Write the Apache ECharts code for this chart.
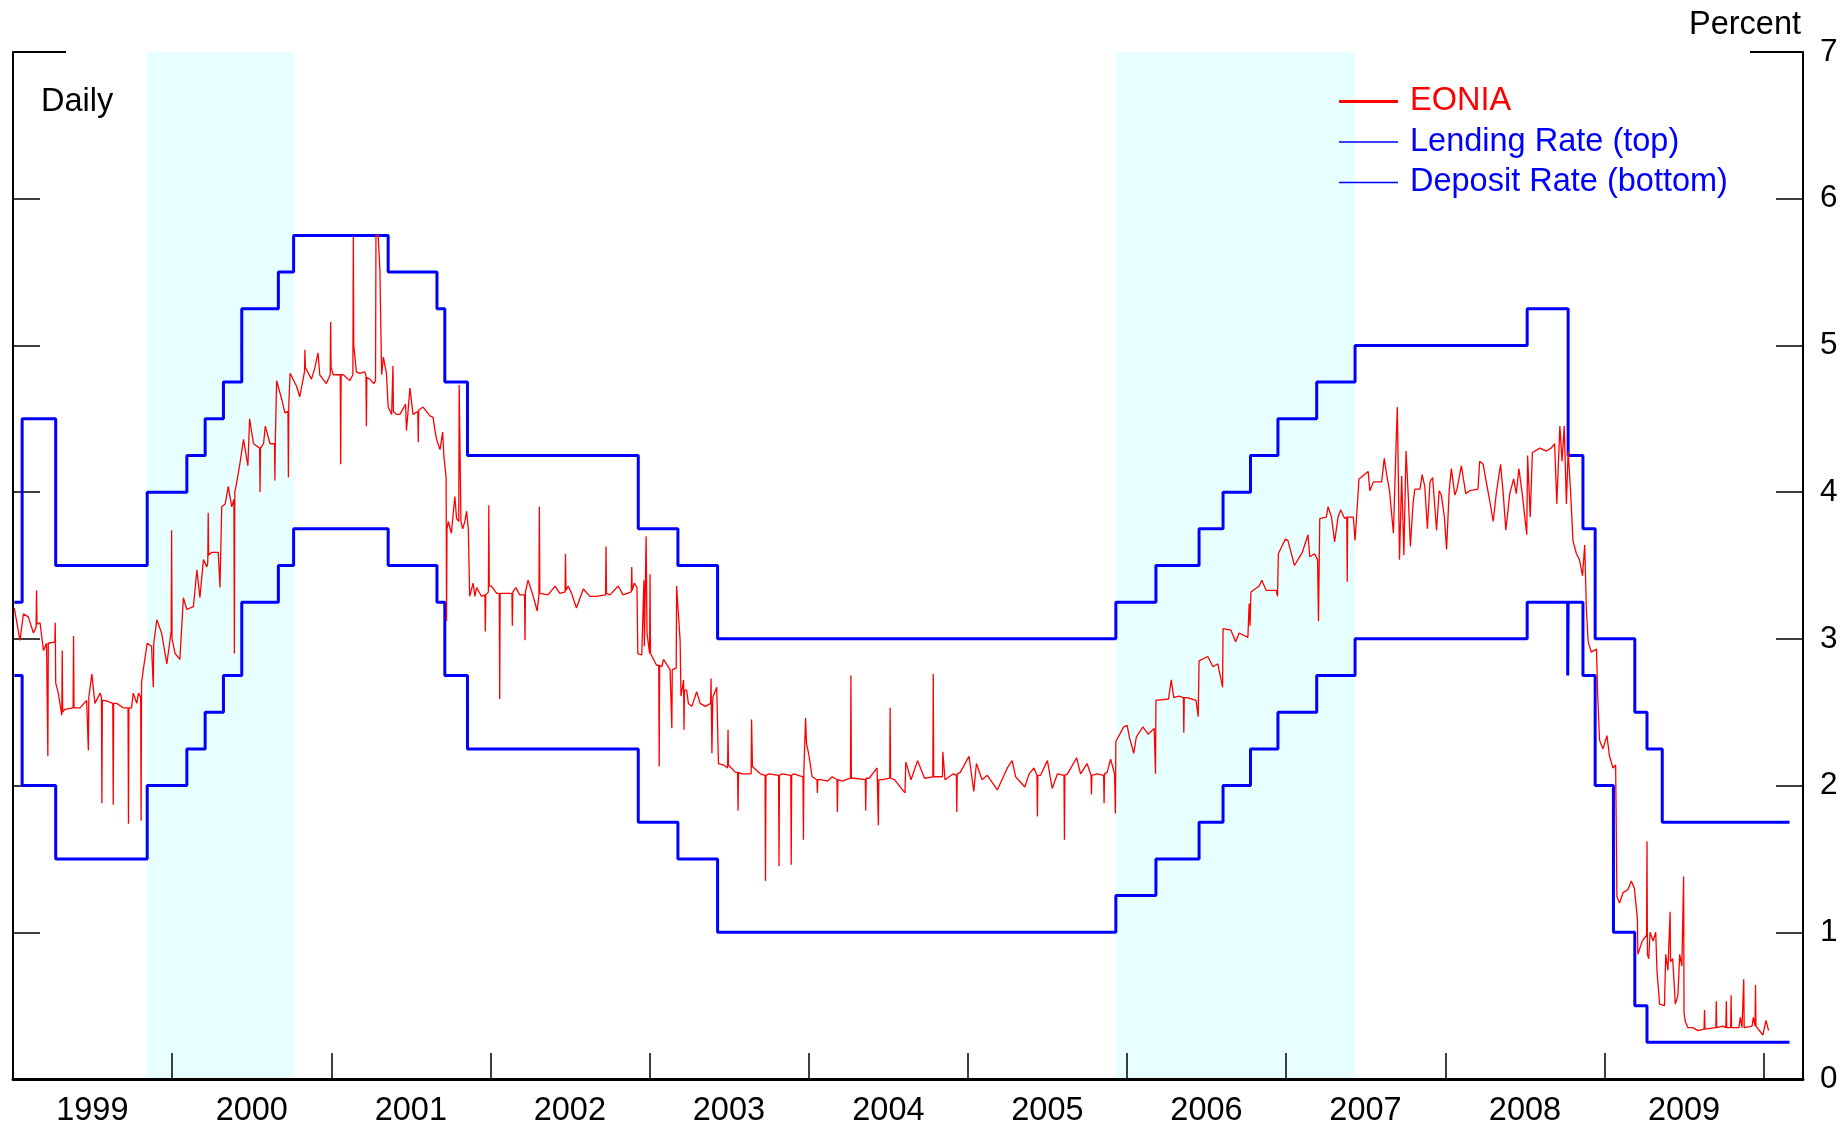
<!DOCTYPE html>
<html><head><meta charset="utf-8">
<script src="https://cdn.jsdelivr.net/npm/echarts@6/dist/echarts.min.js"></script>
<style>html,body{margin:0;padding:0;background:#fff}#c{width:1845px;height:1127px}</style>
</head><body><div id="c"></div>
<script>
const FONT = "'Liberation Sans', Arial, Helvetica, sans-serif";

// x-axis: year tick positions (Jan 1) and year labels (centred mid-year)
const yearTicks = ['2000-01-01','2001-01-01','2002-01-01','2003-01-01','2004-01-01','2005-01-01','2006-01-01','2007-01-01','2008-01-01','2009-01-01','2010-01-01'];
const yearLabels = ['1999','2000','2001','2002','2003','2004','2005','2006','2007','2008','2009'];
const yTickValues = [0,1,2,3,4,5,6,7];

// shaded tightening periods
const tighteningPeriods = [['1999-11-05','2000-10-06'],['2005-12-06','2007-06-08']];

// ECB marginal lending rate (value in force from date)
const lendingRate = [
 ['1999-01-04',3.25],['1999-01-22',4.50],['1999-04-09',3.50],['1999-11-05',4.00],['2000-02-04',4.25],
 ['2000-03-17',4.50],['2000-04-28',4.75],['2000-06-09',5.25],['2000-09-01',5.50],['2000-10-06',5.75],
 ['2001-05-11',5.50],['2001-08-31',5.25],['2001-09-18',4.75],['2001-11-09',4.25],['2002-12-06',3.75],
 ['2003-03-07',3.50],['2003-06-06',3.00],['2005-12-06',3.25],['2006-03-08',3.50],['2006-06-15',3.75],
 ['2006-08-09',4.00],['2006-10-11',4.25],['2006-12-13',4.50],['2007-03-12',4.75],['2007-06-08',5.00],
 ['2008-07-07',5.25],['2008-10-09',4.25],['2008-11-12',3.75],['2008-12-10',3.00],['2009-03-11',2.50],
 ['2009-04-08',2.25],['2009-05-13',1.75],['2010-03-01',1.75]
];
// ECB deposit facility rate
const depositRate = [
 ['1999-01-04',2.75],['1999-01-22',2.00],['1999-04-09',1.50],['1999-11-05',2.00],['2000-02-04',2.25],
 ['2000-03-17',2.50],['2000-04-28',2.75],['2000-06-09',3.25],['2000-09-01',3.50],['2000-10-06',3.75],
 ['2001-05-11',3.50],['2001-08-31',3.25],['2001-09-18',2.75],['2001-11-09',2.25],['2002-12-06',1.75],
 ['2003-03-07',1.50],['2003-06-06',1.00],['2005-12-06',1.25],['2006-03-08',1.50],['2006-06-15',1.75],
 ['2006-08-09',2.00],['2006-10-11',2.25],['2006-12-13',2.50],['2007-03-12',2.75],['2007-06-08',3.00],
 ['2008-07-07',3.25],['2008-10-08',2.75],['2008-10-09',3.25],['2008-11-12',2.75],['2008-12-10',2.00],
 ['2009-01-21',1.00],['2009-03-11',0.50],['2009-04-08',0.25],['2010-03-01',0.25]
];

// EONIA
const eonia1999_2000 = [
 ['1999-01-04',3.21],['1999-01-17',2.99],['1999-01-25',3.17],['1999-02-05',3.15],['1999-02-17',3.04],['1999-02-23',3.08],
 ['1999-02-24',3.33],['1999-02-25',3.10],['1999-03-04',3.11],['1999-03-12',2.92],['1999-03-19',2.97],['1999-03-21',2.97],
 ['1999-03-22',2.20],['1999-03-23',2.97],['1999-03-27',2.98],['1999-04-07',2.98],['1999-04-08',3.11],['1999-04-09',2.70],
 ['1999-04-15',2.63],['1999-04-23',2.48],['1999-04-24',2.92],['1999-04-25',2.50],['1999-04-30',2.52],['1999-05-19',2.53],
 ['1999-05-20',3.02],['1999-05-21',2.53],['1999-06-04',2.53],['1999-06-19',2.58],['1999-06-22',2.58],['1999-06-23',2.24],
 ['1999-06-24',2.60],['1999-06-27',2.67],['1999-07-01',2.76],['1999-07-08',2.56],['1999-07-20',2.63],['1999-07-23',2.60],
 ['1999-07-24',1.88],['1999-07-25',2.58],['1999-07-31',2.58],['1999-08-18',2.56],['1999-08-19',1.87],['1999-08-20',2.56],
 ['1999-08-27',2.56],['1999-09-11',2.53],['1999-09-22',2.53],['1999-09-23',1.74],['1999-09-24',2.53],['1999-09-30',2.53],
 ['1999-10-04',2.63],['1999-10-12',2.56],['1999-10-16',2.63],['1999-10-21',2.60],['1999-10-22',1.76],['1999-10-23',2.70],
 ['1999-10-27',2.79],['1999-10-31',2.79],['1999-11-05',2.97],['1999-11-15',2.95],['1999-11-18',2.95],['1999-11-19',2.67],
 ['1999-11-20',2.97],['1999-11-27',3.13],['1999-12-08',3.04],['1999-12-20',2.83],['1999-12-30',3.05],['1999-12-31',3.74],
 ['2000-01-01',3.00],['2000-01-08',2.90],['2000-01-19',2.86],['2000-01-27',3.28],['2000-02-04',3.20],['2000-02-19',3.22],
 ['2000-02-27',3.47],['2000-03-05',3.28],['2000-03-13',3.54],['2000-03-21',3.49],['2000-03-23',3.52],['2000-03-24',3.86],
 ['2000-03-25',3.57],['2000-04-01',3.59],['2000-04-16',3.59],['2000-04-20',3.35],['2000-04-24',3.90],['2000-05-02',3.92],
 ['2000-05-09',4.04],['2000-05-17',3.90],['2000-05-22',3.95],['2000-05-23',2.90],['2000-05-24',4.00],['2000-05-28',4.06],
 ['2000-06-05',4.20],['2000-06-13',4.36],['2000-06-23',4.18],['2000-06-27',4.50],['2000-07-06',4.33],['2000-07-20',4.30],
 ['2000-07-21',4.00],['2000-07-22',4.30],['2000-07-29',4.33],['2000-08-02',4.45],['2000-08-13',4.33],['2000-08-23',4.33],
 ['2000-08-24',4.08],['2000-08-25',4.35],['2000-08-28',4.76],['2000-09-09',4.63],['2000-09-16',4.54],['2000-09-23',4.55],
 ['2000-09-24',4.10],['2000-09-25',4.60],['2000-09-28',4.81],['2000-10-13',4.72]
];
const eonia2000_2002 = [
 ['2000-10-20',4.65],['2000-10-31',4.82],['2000-11-01',4.97],['2000-11-02',4.85],['2000-11-16',4.77],['2000-11-24',4.85],
 ['2000-12-01',4.95],['2000-12-05',4.80],['2000-12-20',4.74],['2000-12-29',4.80],['2000-12-30',5.16],['2000-12-31',4.85],
 ['2001-01-05',4.80],['2001-01-16',4.80],['2001-01-21',4.80],['2001-01-22',4.19],['2001-01-23',4.80],['2001-01-28',4.80],
 ['2001-02-12',4.76],['2001-02-19',4.80],['2001-02-20',5.74],['2001-02-21',5.00],['2001-02-23',4.99],['2001-02-27',4.82],
 ['2001-03-07',4.81],['2001-03-18',4.82],['2001-03-21',4.80],['2001-03-22',4.45],['2001-03-23',4.78],['2001-03-30',4.77],
 ['2001-04-08',4.74],['2001-04-12',4.76],['2001-04-13',5.75],['2001-04-18',5.75],['2001-04-22',5.51],['2001-04-26',4.80],
 ['2001-04-30',4.92],['2001-05-07',4.81],['2001-05-11',4.58],['2001-05-19',4.53],['2001-05-21',4.53],['2001-05-22',4.86],
 ['2001-05-23',4.55],['2001-05-30',4.53],['2001-06-07',4.53],['2001-06-20',4.60],['2001-06-22',4.42],['2001-06-30',4.71],
 ['2001-07-07',4.53],['2001-07-18',4.55],['2001-07-19',4.34],['2001-07-20',4.56],['2001-07-30',4.58],['2001-08-15',4.52],
 ['2001-08-22',4.51],['2001-08-26',4.43],['2001-08-30',4.36],['2001-09-07',4.29],['2001-09-13',4.41],['2001-09-16',4.24],
 ['2001-09-21',4.10],['2001-09-22',3.12],['2001-09-23',3.75],['2001-09-26',3.80],['2001-10-03',3.72],['2001-10-11',3.97],
 ['2001-10-15',3.82],['2001-10-20',3.80],['2001-10-21',4.73],['2001-10-24',4.73],['2001-10-25',3.80],['2001-10-29',3.75],
 ['2001-11-03',3.80],['2001-11-07',3.87],['2001-11-11',3.75],['2001-11-14',3.29],['2001-11-22',3.38],['2001-11-26',3.29],
 ['2001-11-30',3.35],['2001-12-11',3.29],['2001-12-19',3.30],['2001-12-20',3.05],['2001-12-21',3.30],['2001-12-27',3.32],
 ['2001-12-28',3.91],['2001-12-29',3.36],['2002-01-03',3.36],['2002-01-15',3.31],['2002-01-21',3.31],['2002-01-22',2.59],
 ['2002-01-23',3.31],['2002-01-30',3.31],['2002-02-11',3.31],['2002-02-19',3.31],['2002-02-20',3.09],['2002-02-21',3.32],
 ['2002-02-28',3.35],['2002-03-09',3.30],['2002-03-20',3.30],['2002-03-21',2.99],['2002-03-22',3.32],['2002-03-28',3.40],
 ['2002-04-09',3.29],['2002-04-18',3.19],['2002-04-22',3.30],['2002-04-23',3.90],['2002-04-24',3.31],['2002-04-28',3.31],
 ['2002-05-13',3.30],['2002-05-29',3.36],['2002-06-09',3.31],['2002-06-21',3.32],['2002-06-22',3.58],['2002-06-23',3.33],
 ['2002-06-28',3.36],['2002-07-06',3.31],['2002-07-17',3.21],['2002-08-02',3.34],['2002-08-17',3.29],['2002-09-01',3.29],
 ['2002-09-22',3.30],['2002-09-23',3.63],['2002-09-24',3.31],['2002-10-02',3.30],['2002-10-21',3.36],['2002-11-01',3.30],
 ['2002-11-20',3.32],['2002-11-21',3.49],['2002-11-22',3.33],['2002-11-27',3.38],['2002-12-03',3.35],['2002-12-05',2.90]
];
const eonia2003_2004 = [
 ['2002-12-14',2.89],['2002-12-18',2.90],['2002-12-19',3.40],['2002-12-20',2.95],['2002-12-23',2.95],['2002-12-24',3.70],
 ['2002-12-26',3.04],['2002-12-29',3.04],['2003-01-01',2.90],['2003-01-02',3.44],['2003-01-03',2.90],['2003-01-06',2.89],
 ['2003-01-17',2.82],['2003-01-22',2.82],['2003-01-23',2.13],['2003-01-24',2.82],['2003-01-29',2.81],['2003-02-02',2.86],
 ['2003-02-17',2.79],['2003-02-20',2.79],['2003-02-21',2.39],['2003-02-22',2.79],['2003-02-25',2.79],['2003-03-03',2.80],
 ['2003-03-04',3.36],['2003-03-08',3.17],['2003-03-12',2.99],['2003-03-14',2.61],['2003-03-20',2.72],['2003-03-21',2.38],
 ['2003-03-22',2.65],['2003-03-27',2.65],['2003-03-31',2.56],['2003-04-08',2.54],['2003-04-19',2.64],['2003-04-27',2.56],
 ['2003-05-09',2.54],['2003-05-21',2.56],['2003-05-22',2.73],['2003-05-24',2.22],['2003-05-26',2.60],['2003-06-04',2.67],
 ['2003-06-08',2.15],['2003-06-20',2.14],['2003-06-29',2.12],['2003-06-30',2.38],['2003-07-01',2.14],['2003-07-05',2.13],
 ['2003-07-17',2.09],['2003-07-22',2.09],['2003-07-23',1.83],['2003-07-24',2.09],['2003-08-01',2.08],['2003-08-22',2.08],
 ['2003-08-23',2.45],['2003-08-25',2.13],['2003-08-28',2.13],['2003-09-12',2.08],['2003-09-23',2.07],['2003-09-24',1.35],
 ['2003-09-25',2.07],['2003-10-02',2.08],['2003-10-24',2.07],['2003-10-25',1.45],['2003-10-26',2.07],['2003-11-01',2.08],
 ['2003-11-21',2.07],['2003-11-22',1.46],['2003-11-23',2.07],['2003-11-28',2.08],['2003-12-19',2.06],['2003-12-20',1.63],
 ['2003-12-21',2.10],['2003-12-24',2.10],['2003-12-25',2.46],['2003-12-27',2.29],['2004-01-02',2.20],['2004-01-09',2.06],
 ['2004-01-20',2.04],['2004-01-21',1.95],['2004-01-22',2.04],['2004-01-29',2.04],['2004-02-13',2.03],['2004-02-24',2.06],
 ['2004-03-06',2.04],['2004-03-07',1.82],['2004-03-08',2.04],['2004-03-18',2.03],['2004-04-06',2.05],['2004-04-07',2.75],
 ['2004-04-08',2.05],['2004-04-14',2.05],['2004-05-10',2.04],['2004-05-11',1.83],['2004-05-12',2.05],['2004-05-19',2.05],
 ['2004-06-06',2.12],['2004-06-09',1.73],['2004-06-10',2.04],['2004-06-19',2.04],['2004-07-05',2.05],['2004-07-06',2.53],
 ['2004-07-07',2.05],['2004-07-16',2.04],['2004-08-09',1.95],['2004-08-11',2.16],['2004-08-23',2.04],['2004-09-07',2.17],
 ['2004-09-23',2.05],['2004-10-12',2.06],['2004-10-13',2.76],['2004-10-14',2.06],['2004-10-23',2.06]
];
const eonia2005_2006 = [
 ['2004-11-03',2.06],['2004-11-04',2.23],['2004-11-09',2.04],['2004-11-28',2.08],['2004-12-05',2.07],['2004-12-06',1.82],
 ['2004-12-07',2.08],['2004-12-14',2.09],['2005-01-03',2.20],['2005-01-14',1.96],['2005-01-20',2.15],['2005-02-02',2.04],
 ['2005-02-14',2.07],['2005-03-09',1.97],['2005-04-01',2.12],['2005-04-12',2.17],['2005-04-20',2.06],['2005-05-11',1.99],
 ['2005-05-21',2.08],['2005-06-01',2.12],['2005-06-08',2.07],['2005-06-09',1.79],['2005-06-10',2.07],['2005-06-16',2.07],
 ['2005-07-02',2.17],['2005-07-13',1.98],['2005-07-25',2.08],['2005-08-09',2.07],['2005-08-10',1.63],['2005-08-11',2.07],
 ['2005-08-17',2.08],['2005-09-07',2.19],['2005-09-16',2.08],['2005-10-01',2.15],['2005-10-10',2.07],['2005-10-11',1.94],
 ['2005-10-12',2.07],['2005-10-24',2.08],['2005-11-08',2.07],['2005-11-09',1.88],['2005-11-10',2.08],['2005-11-16',2.09],
 ['2005-11-24',2.18],['2005-12-03',2.08],['2005-12-05',1.81],['2005-12-06',2.30],['2005-12-24',2.40],['2006-01-01',2.41],
 ['2006-01-06',2.33],['2006-01-16',2.22],['2006-01-22',2.33],['2006-02-06',2.40],['2006-02-18',2.35],['2006-03-04',2.39],
 ['2006-03-07',2.08],['2006-03-08',2.58],['2006-04-06',2.59],['2006-04-12',2.72],['2006-04-18',2.60],['2006-04-29',2.61],
 ['2006-05-10',2.60],['2006-05-11',2.36],['2006-05-12',2.60],['2006-05-19',2.60],['2006-06-08',2.58],['2006-06-13',2.47],
 ['2006-06-15',2.85],['2006-07-05',2.88],['2006-07-17',2.81],['2006-07-28',2.83],['2006-08-08',2.67],['2006-08-09',3.07]
];
const eonia2007_2009 = [
 ['2006-08-27',3.06],['2006-09-07',2.98],['2006-09-15',3.04],['2006-10-05',3.01],['2006-10-08',3.24],['2006-10-10',3.09],
 ['2006-10-12',3.32],['2006-10-31',3.36],['2006-11-06',3.40],['2006-11-16',3.33],['2006-12-09',3.33],['2006-12-12',3.29],
 ['2006-12-14',3.58],['2006-12-30',3.68],['2007-01-05',3.67],['2007-01-12',3.59],['2007-01-20',3.50],['2007-02-01',3.56],
 ['2007-02-07',3.59],['2007-02-20',3.71],['2007-02-24',3.56],['2007-03-07',3.58],['2007-03-14',3.54],['2007-03-16',3.12],
 ['2007-03-19',3.82],['2007-04-03',3.83],['2007-04-07',3.90],['2007-04-15',3.83],['2007-04-22',3.66],['2007-04-30',3.83],
 ['2007-05-06',3.88],['2007-05-15',3.82],['2007-05-20',3.83],['2007-05-21',3.39],['2007-05-22',3.83],['2007-05-27',3.83],
 ['2007-06-04',3.83],['2007-06-08',3.67],['2007-06-17',4.09],['2007-07-08',4.14],['2007-07-12',4.01],['2007-07-20',4.07],
 ['2007-08-08',4.07],['2007-08-14',4.23],['2007-08-20',4.11],['2007-08-26',4.01],['2007-09-04',3.72],['2007-09-10',4.31],
 ['2007-09-13',4.58],['2007-09-18',3.54],['2007-09-23',4.11],['2007-09-28',3.57],['2007-10-03',4.28],['2007-10-08',3.98],
 ['2007-10-13',3.63],['2007-10-19',3.92],['2007-10-23',4.02],['2007-11-04',4.02],['2007-11-09',4.12],['2007-11-15',4.04],
 ['2007-11-21',3.75],['2007-11-27',4.07],['2007-12-03',4.10],['2007-12-12',3.74],['2007-12-18',4.01],['2007-12-23',3.98],
 ['2007-12-30',3.83],['2008-01-04',3.61],['2008-01-10',4.01],['2008-01-15',4.16],['2008-01-23',3.98],['2008-01-28',4.02],
 ['2008-02-07',4.18],['2008-02-17',3.99],['2008-02-26',4.01],['2008-03-16',4.02],['2008-03-20',4.21],['2008-03-28',4.19],
 ['2008-04-04',4.07],['2008-04-11',3.96],['2008-04-20',3.80],['2008-04-27',3.99],['2008-05-07',4.19],['2008-05-13',3.99],
 ['2008-05-19',3.74],['2008-05-28',3.99],['2008-06-06',4.09],['2008-06-12',3.99],['2008-06-18',4.16],['2008-06-26',3.98],
 ['2008-07-06',3.71],['2008-07-08',4.25],['2008-07-14',3.83],['2008-07-19',4.27],['2008-08-05',4.30],['2008-08-20',4.28],
 ['2008-08-31',4.30],['2008-09-08',4.33],['2008-09-13',3.92],['2008-09-20',4.45],['2008-09-25',4.21],['2008-09-30',4.45],
 ['2008-10-05',3.92],['2008-10-09',4.28],['2008-10-15',3.98],['2008-10-20',3.67],['2008-10-28',3.58],['2008-11-04',3.54],
 ['2008-11-11',3.43],['2008-11-16',3.64],['2008-11-20',3.19],['2008-11-24',2.98],['2008-12-01',2.91],['2008-12-13',2.93],
 ['2008-12-16',2.61],['2008-12-20',2.31],['2008-12-28',2.25],['2009-01-06',2.34],['2009-01-12',2.20],['2009-01-20',2.12],
 ['2009-01-26',2.14],['2009-01-29',1.24],['2009-02-04',1.20],['2009-02-12',1.27],['2009-02-23',1.29],['2009-03-03',1.35],
 ['2009-03-10',1.30],['2009-03-17',1.09],['2009-03-18',0.85],['2009-03-28',0.94],['2009-04-07',0.98],['2009-04-08',1.62],
 ['2009-04-09',0.85],['2009-04-12',0.82],['2009-04-15',1.00],['2009-04-22',0.94],['2009-04-28',1.00],['2009-05-01',0.73],
 ['2009-05-07',0.51],['2009-05-18',0.50],['2009-05-21',0.85],['2009-05-26',0.74],['2009-05-30',0.75],['2009-05-31',1.14],
 ['2009-06-01',0.80],['2009-06-06',0.82],['2009-06-12',0.51],['2009-06-18',0.57],['2009-06-22',0.85],['2009-06-27',0.77],
 ['2009-06-30',0.77],['2009-07-01',1.38],['2009-07-02',0.45],['2009-07-05',0.39],['2009-07-11',0.35],['2009-07-22',0.35],
 ['2009-08-03',0.33],['2009-08-17',0.34],['2009-08-18',0.47],['2009-08-19',0.34],['2009-09-13',0.35],['2009-09-14',0.53],
 ['2009-09-15',0.35],['2009-09-29',0.36],['2009-10-06',0.35],['2009-10-07',0.53],['2009-10-08',0.35],['2009-10-17',0.35],
 ['2009-10-18',0.57],['2009-10-19',0.35],['2009-11-05',0.35],['2009-11-08',0.42],['2009-11-12',0.35],['2009-11-15',0.35],
 ['2009-11-16',0.68],['2009-11-17',0.35],['2009-12-05',0.36],['2009-12-08',0.42],['2009-12-12',0.36],['2009-12-13',0.64],
 ['2009-12-14',0.36],['2009-12-30',0.30],['2010-01-06',0.40],['2010-01-12',0.33]
];
const eonia = [].concat(eonia1999_2000, eonia2000_2002, eonia2003_2004, eonia2005_2006, eonia2007_2009);

// date string -> timestamp (UTC days)
const ts = s => { const p = s.split('-').map(Number); return Date.UTC(p[0], p[1]-1, p[2]); };
const toXY = arr => arr.map(d => [ts(d[0]), d[1]]);

const chart = echarts.init(document.getElementById('c'), null, {renderer:'canvas'});

const yBase = {type:'value', min:0, max:7, interval:1, splitLine:{show:false}, z:5};
chart.setOption({
  animation:false,
  backgroundColor:'#fff',
  textStyle:{fontFamily:FONT},
  title:{text:'Daily', left:41, top:86, padding:0,
    textStyle:{fontSize:32.5, fontWeight:'normal', color:'#000', fontFamily:FONT}},
  legend:{orient:'vertical', left:1339, top:85, padding:0, itemWidth:59, itemHeight:14, itemGap:7.5,
    selectedMode:false, symbolKeepAspect:true,
    textStyle:{fontSize:32.5, fontFamily:FONT, padding:[0,0,0,7]},
    data:[
      {name:'EONIA', icon:'path://M0,0L59,0L59,3L0,3Z', textStyle:{color:'#ff0000'}},
      {name:'Lending Rate (top)', icon:'path://M0,0L59,0L59,1.6L0,1.6Z', textStyle:{color:'#0000ff'}},
      {name:'Deposit Rate (bottom)', icon:'path://M0,0L59,0L59,1.6L0,1.6Z', textStyle:{color:'#0000ff'}}
    ]},
  grid:{left:13, right:42, top:52, bottom:48, containLabel:false, outerBoundsMode:'none'},
  xAxis:{type:'value', min:ts('1999-01-01'), max:ts('2010-04-01'), scale:true, z:5,
    axisLine:{show:true, lineStyle:{color:'#000', width:3}},
    axisTick:{show:true, inside:true, length:26, customValues:yearTicks.map(ts), lineStyle:{color:'#000', width:1.5}},
    axisLabel:{show:true, customValues:yearLabels.map(y=>ts(y+'-07-02')), fontSize:32.5, color:'#000', fontFamily:FONT, margin:16,
      formatter:v=>String(new Date(v).getUTCFullYear())},
    splitLine:{show:false}},
  yAxis:[
    Object.assign({}, yBase, {position:'right',
      axisLine:{show:true, lineStyle:{color:'#000', width:2}},
      axisTick:{show:true, inside:true, length:27, customValues:yTickValues, lineStyle:{color:'#000', width:1.5}},
      axisLabel:{show:true, customValues:yTickValues, fontSize:31.5, color:'#000', fontFamily:FONT, margin:17},
      name:'Percent', nameLocation:'end', nameGap:27,
      nameTextStyle:{fontSize:32.5, color:'#000', align:'right', verticalAlign:'middle', fontFamily:FONT, padding:[0,2,0,0]}}),
    Object.assign({}, yBase, {position:'left',
      axisLine:{show:true, lineStyle:{color:'#000', width:2}},
      axisTick:{show:true, inside:true, length:27, customValues:yTickValues, lineStyle:{color:'#000', width:1.5}},
      axisLabel:{show:false}}),
    Object.assign({}, yBase, {position:'right', axisLine:{show:false},
      axisTick:{show:true, inside:true, length:53, customValues:[7], lineStyle:{color:'#000', width:2}},
      axisLabel:{show:false}}),
    Object.assign({}, yBase, {position:'left', axisLine:{show:false},
      axisTick:{show:true, inside:true, length:53, customValues:[7], lineStyle:{color:'#000', width:2}},
      axisLabel:{show:false}})
  ],
  series:[
    {name:'shade', type:'line', data:[], z:0, zlevel:0, silent:true,
      markArea:{silent:true, z:0, itemStyle:{color:'#e8ffff'},
        data:tighteningPeriods.map(p=>[{xAxis:ts(p[0])},{xAxis:ts(p[1])}])}},
    {name:'Lending Rate (top)', type:'line', step:'end', data:toXY(lendingRate), showSymbol:false, symbol:'none', z:6,
      lineStyle:{color:'#0000ff', width:3}, itemStyle:{color:'#0000ff'}},
    {name:'Deposit Rate (bottom)', type:'line', step:'end', data:toXY(depositRate), showSymbol:false, symbol:'none', z:6,
      lineStyle:{color:'#0000ff', width:3}, itemStyle:{color:'#0000ff'}},
    {name:'EONIA', type:'line', data:toXY(eonia), showSymbol:false, symbol:'none', z:7,
      lineStyle:{color:'#ff0000', width:1.3}, itemStyle:{color:'#ff0000'}}
  ]
});
</script></body></html>
